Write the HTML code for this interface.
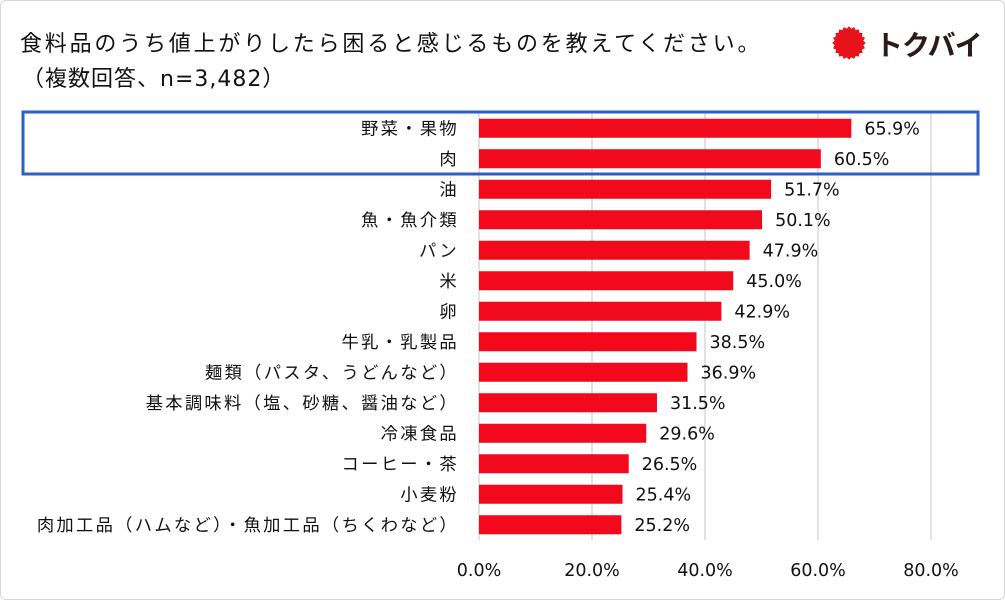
<!DOCTYPE html>
<html><head><meta charset="utf-8"><style>
body{margin:0;background:#fff}
#wrap{position:relative;width:1005px;height:600px;overflow:hidden;font-family:"Liberation Sans","Noto Sans CJK JP",sans-serif;color:#111}
.t{position:absolute;white-space:nowrap}
</style></head><body>
<div id="wrap">
<div style="position:absolute;left:0;top:0;width:1003px;height:598px;border:1px solid #d6d6d6;border-radius:6px"></div>
<div class="t" style="left:20px;top:26px;font-size:22px;letter-spacing:2.8px;font-family:'DejaVu Sans','Noto Sans CJK JP',sans-serif">食料品のうち値上がりしたら困ると感じるものを教えてください。</div>
<div class="t" style="left:22px;top:61px;font-size:22px;letter-spacing:1px;font-family:'DejaVu Sans','Noto Sans CJK JP',sans-serif">（複数回答、n=3,482）</div>
<div style="position:absolute;left:832px;top:24px;width:172px;height:40px">
<svg width="34" height="34" style="position:absolute;left:0;top:2px"><polygon id="star" fill="#e8121b"/></svg>
<div class="t" style="left:43px;top:0px;font-size:28px;font-weight:bold;color:#2a1a1a;letter-spacing:-1px">トクバイ</div>
</div>
<svg id="chart" width="1005" height="600" style="position:absolute;left:0;top:0"></svg>
</div>
<script>
const categories=["野菜・果物","肉","油","魚・魚介類","パン","米","卵","牛乳・乳製品","麺類（パスタ、うどんなど）","基本調味料（塩、砂糖、醤油など）","冷凍食品","コーヒー・茶","小麦粉","肉加工品（ハムなど）・魚加工品（ちくわなど）"];
const values=[65.9,60.5,51.7,50.1,47.9,45.0,42.9,38.5,36.9,31.5,29.6,26.5,25.4,25.2];
const ticks=[0,20,40,60,80];
const tickLabels=["0.0%","20.0%","40.0%","60.0%","80.0%"];

(function(){let p=[];const n=20;for(let i=0;i<n*2;i++){const r=i%2?14.5:16.8;const a=i*Math.PI/n;p.push((17+r*Math.cos(a)).toFixed(1)+","+(17+r*Math.sin(a)).toFixed(1));}document.getElementById('star').setAttribute('points',p.join(' '));})();

const NS="http://www.w3.org/2000/svg";
const svg=document.getElementById('chart');
const x0=479,pxPer=5.65,top0=113,rowH=30.5,barH=19;
const xs=v=>x0+v*pxPer;
const yc=i=>top0+rowH*(i+0.5);
function mk(tag,attrs,txt){const e=document.createElementNS(NS,tag);for(const k in attrs)e.setAttribute(k,attrs[k]);if(txt!==undefined)e.textContent=txt;svg.appendChild(e);return e;}
const font='"Liberation Sans","Noto Sans CJK JP",sans-serif';
const nfont='"DejaVu Sans",sans-serif';
ticks.forEach((t,i)=>{
 const g=mk('line',{x1:xs(t),x2:xs(t),y1:top0,y2:top0+rowH*categories.length,stroke:'#d9d9d9','stroke-width':1.5});
 
 
 const l=mk('text',{x:xs(t),y:576,'text-anchor':'middle','font-size':17.5,'font-family':nfont,fill:'#111'},tickLabels[i]);
 
 
});
categories.forEach((c,i)=>{
 const b=mk('rect',{x:x0,y:yc(i)-barH/2,width:xs(values[i])-x0,height:barH,fill:'#f2091c'});
 
 
 const l=mk('text',{x:459,y:yc(i)+6,'text-anchor':'end','font-size':17.3,'letter-spacing':2.3,'font-family':font,fill:'#111'},c);
 
 
 const v=mk('text',{x:xs(values[i])+13,y:yc(i)+6,'font-size':17.5,'font-family':nfont,fill:'#111'},values[i].toFixed(1)+'%');
 
 
});
const hb=mk('rect',{x:23,y:112,width:955,height:62,fill:'none',stroke:'#2e5fc4','stroke-width':3});


</script>
</body></html>
